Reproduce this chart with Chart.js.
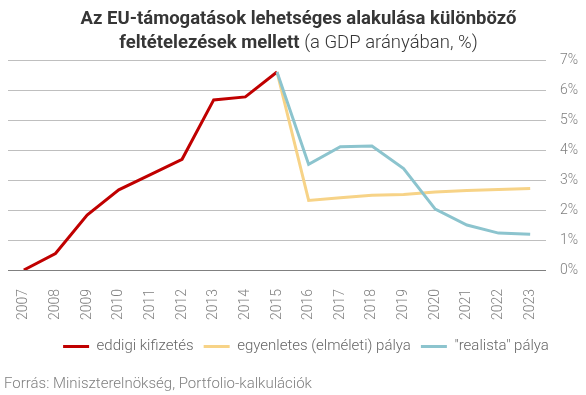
<!DOCTYPE html>
<html>
<head>
<meta charset="utf-8">
<script src="https://cdn.jsdelivr.net/npm/chart.js@4.4.1/dist/chart.umd.min.js"></script>
<style>
  html, body { margin: 0; padding: 0; background: #fff; }
  #wrap { position: relative; width: 586px; height: 395px; font-family: Roboto, sans-serif; }
  #title {
    position: absolute; left: 0; top: 7px; width: 597px; text-align: center;
    font-size: 18.5px; line-height: 23.5px; color: #363636; font-weight: bold;
  }
  #title span { font-weight: 300; }
  #source {
    position: absolute; left: 4px; top: 374px; font-size: 15px; font-weight: 300; color: #808080;
  }
  canvas { position: absolute; left: 0; top: 0; }
</style>
</head>
<body>
<div id="wrap">
  <canvas id="chart" width="586" height="395"></canvas>
  <div id="title">Az EU-támogatások lehetséges alakulása különböző<br>feltételezések mellett <span>(a GDP arányában, %)</span></div>
  <div id="source">Forrás: Miniszterelnökség, Portfolio-kalkulációk</div>
</div>
<script>
const years = ["2007", "2008", "2009", "2010", "2011", "2012", "2013", "2014", "2015",
  "2016", "2017", "2018", "2019", "2020", "2021", "2022", "2023"];

// eddigi kifizetés (2007-2015)
const paid = [0, 0.55, 1.83, 2.67, 3.18, 3.69, 5.67, 5.77, 6.6,
  null, null, null, null, null, null, null, null];
// egyenletes (elméleti) pálya
const even = [null, null, null, null, null, null, null, null, 6.6,
  2.32, 2.41, 2.49, 2.52, 2.6, 2.65, 2.68, 2.72];
// "realista" pálya
const realistic = [null, null, null, null, null, null, null, null, 6.6,
  3.52, 4.11, 4.13, 3.38, 2.03, 1.5, 1.23, 1.19];

const lightFont = (size) => ({ family: "Roboto", size: size, weight: 300 });

// legend sits a bit right of the canvas centre in the original
const legendShift = {
  id: "legendShift",
  afterLayout: (chart) => {
    chart.legend.left += 9;
    chart.legend.right += 9;
  },
};

const ctx = document.getElementById("chart").getContext("2d");
const myChart = new Chart(ctx, {
  type: "line",
  plugins: [legendShift],
  data: {
    labels: years,
    datasets: [
      {
        label: "eddigi kifizetés",
        data: paid,
        borderColor: "#c00000",
        backgroundColor: "#c00000",
        borderWidth: 3,
        pointRadius: 0,
        order: 1,
      },
      {
        label: "egyenletes (elméleti) pálya",
        data: even,
        borderColor: "#f7d387",
        backgroundColor: "#f7d387",
        borderWidth: 3,
        pointRadius: 0,
        order: 2,
      },
      {
        label: "\"realista\" pálya",
        data: realistic,
        borderColor: "#8cc4ce",
        backgroundColor: "#8cc4ce",
        borderWidth: 3,
        pointRadius: 0,
        order: 0,
      },
    ],
  },
  options: {
    responsive: false,
    animation: false,
    layout: {
      padding: { top: 60, left: 8, right: 0, bottom: 31 },
    },
    scales: {
      x: {
        offset: true,
        grid: { display: false },
        border: { display: false },
        ticks: {
          minRotation: 90,
          maxRotation: 90,
          padding: 11,
          color: "#808080",
          font: lightFont(14),
        },
        afterFit: (s) => {
          s.height = 59;
        },
      },
      y: {
        position: "right",
        min: 0,
        max: 7,
        border: { display: false },
        grid: {
          drawTicks: false,
          color: (c) => (c.tick && c.tick.value === 0 ? "#808080" : "#bfbfbf"),
          lineWidth: 1,
        },
        ticks: {
          stepSize: 1,
          padding: 14,
          color: "#808080",
          font: lightFont(14),
          callback: (v) => v + "%",
        },
        afterFit: (s) => {
          s.width = 40;
        },
      },
    },
    plugins: {
      title: { display: false },
      tooltip: { enabled: false },
      legend: {
        display: true,
        position: "bottom",
        labels: {
          boxWidth: 26,
          boxHeight: 3,
          padding: 10,
          color: "#666666",
          font: lightFont(15),
          sort: (a, b) => a.datasetIndex - b.datasetIndex,
          generateLabels: (chart) =>
            Chart.defaults.plugins.legend.labels.generateLabels(chart).map((l) => {
              l.lineWidth = 0;
              return l;
            }),
        },
      },
    },
  },
});
</script>
</body>
</html>
